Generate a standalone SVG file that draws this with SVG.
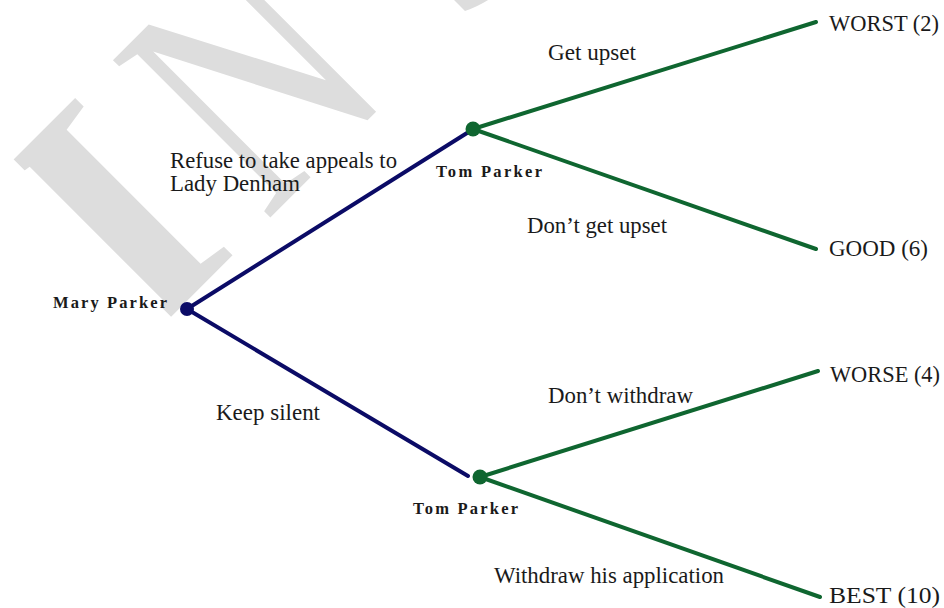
<svg xmlns="http://www.w3.org/2000/svg" width="944" height="608" viewBox="0 0 944 608">
<style>
.wm{font-family:"Liberation Serif","Times New Roman",serif;font-size:340px;fill:#dddddd}
.lbl{font-family:"Liberation Serif","Times New Roman",serif;font-size:22.5px;fill:#1a1a1a}
.who{font-family:"Liberation Serif","Times New Roman",serif;font-size:16.5px;font-weight:bold;fill:#1a1a1a}
.navy{stroke:#0b0b66;stroke-width:4;fill:none;stroke-linecap:round}
.green{stroke:#0f6630;stroke-width:4;fill:none;stroke-linecap:round}
.nnavy{fill:#0b0b66}
.ngreen{fill:#0f6630}
</style>
<defs>
<clipPath id="wmclip" clipPathUnits="userSpaceOnUse"><rect x="-103" y="0" width="900" height="500"/></clipPath>
</defs>
<g id="watermark" transform="rotate(-45)">
<text class="wm" x="-137" y="345" font-weight="bold" clip-path="url(#wmclip)">I</text>
<g transform="scale(0.75,1)">
<text class="wm" x="40" y="345">N</text>
<text class="wm" x="405" y="345">S</text>
</g>
</g>
<g id="connectors">
<line class="navy" x1="187" y1="309" x2="467" y2="133"/>
<line class="navy" x1="187" y1="309" x2="468" y2="476"/>
<line class="green" x1="473" y1="129" x2="816" y2="22"/>
<line class="green" x1="473" y1="129" x2="816" y2="249"/>
<line class="green" x1="480" y1="477" x2="818" y2="371"/>
<line class="green" x1="480" y1="477" x2="820" y2="597"/>
<text class="lbl" x="170" y="168" textLength="227" lengthAdjust="spacingAndGlyphs">Refuse to take appeals to</text>
<text class="lbl" x="170" y="191" textLength="130" lengthAdjust="spacingAndGlyphs">Lady Denham</text>
<text class="lbl" x="216" y="420" textLength="104" lengthAdjust="spacingAndGlyphs">Keep silent</text>
<text class="lbl" x="548" y="60" textLength="88" lengthAdjust="spacingAndGlyphs">Get upset</text>
<text class="lbl" x="527" y="233" textLength="140" lengthAdjust="spacingAndGlyphs">Don’t get upset</text>
<text class="lbl" x="548" y="403" textLength="145" lengthAdjust="spacingAndGlyphs">Don’t withdraw</text>
<text class="lbl" x="494" y="583" textLength="230" lengthAdjust="spacingAndGlyphs">Withdraw his application</text>
</g>
<g id="mary">
<circle class="nnavy" cx="187" cy="309" r="7"/>
<text class="who" x="53" y="308" textLength="114" lengthAdjust="spacing">Mary Parker</text>
</g>
<g id="tom1">
<circle class="ngreen" cx="473" cy="129" r="7.5"/>
<text class="who" x="436" y="176.5" textLength="106" lengthAdjust="spacing">Tom Parker</text>
</g>
<g id="tom2">
<circle class="ngreen" cx="480" cy="477" r="7.5"/>
<text class="who" x="413" y="514" textLength="105" lengthAdjust="spacing">Tom Parker</text>
</g>
<g id="worst">
<text class="lbl" x="829" y="31" textLength="110" lengthAdjust="spacingAndGlyphs">WORST (2)</text>
</g>
<g id="good">
<text class="lbl" x="829" y="256" textLength="99" lengthAdjust="spacingAndGlyphs">GOOD (6)</text>
</g>
<g id="worse">
<text class="lbl" x="830" y="382" textLength="110" lengthAdjust="spacingAndGlyphs">WORSE (4)</text>
</g>
<g id="best">
<text class="lbl" x="829" y="603" textLength="111" lengthAdjust="spacingAndGlyphs">BEST (10)</text>
</g>
</svg>
